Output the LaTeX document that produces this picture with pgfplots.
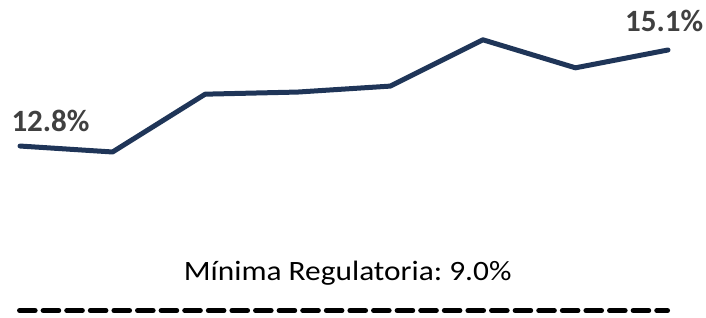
\documentclass[border=0pt]{standalone}
\usepackage{pgfplots}
\pgfplotsset{compat=1.18}
\usepackage{fontspec}
\setmainfont{Carlito}
\frenchspacing
\definecolor{navy}{HTML}{1F3558}
\definecolor{lbl}{HTML}{404040}
\begin{document}
\begin{tikzpicture}
\begin{axis}[
  scale only axis,
  width=706bp, height=318bp,
  xmin=-0.2161, xmax=7.4105,
  ymin=8.794, ymax=16.276,
  hide axis,
  clip=false,
]
\draw[draw=none] (rel axis cs:0,0) rectangle (rel axis cs:1,1);
\addplot[navy, line width=5bp, line join=round, line cap=round] coordinates {
  (0,12.84) (1,12.70) (2,14.06) (3,14.11) (4,14.25) (5,15.34) (6,14.68) (7,15.10)
};
\addplot[black, line width=5bp, line cap=round, dash pattern=on 15.6bp off 8bp] coordinates {
  (-0.005,8.97) (6.995,8.97)
};
\node[font=\fontsize{31bp}{31bp}\selectfont\bfseries, text=lbl, anchor=base, inner sep=0pt]
  at (axis cs:0.3295,13.176) {12.8\%};
\node[font=\fontsize{31bp}{31bp}\selectfont\bfseries, text=lbl, anchor=base, inner sep=0pt]
  at (axis cs:6.959,15.525) {15.1\%};
\node[font=\fontsize{28bp}{28bp}\selectfont, text=black, anchor=base, inner sep=0pt, xscale=1.12]
  at (axis cs:3.54,9.688) {Mínima Regulatoria: 9.0\%};
\end{axis}
\end{tikzpicture}
\end{document}
